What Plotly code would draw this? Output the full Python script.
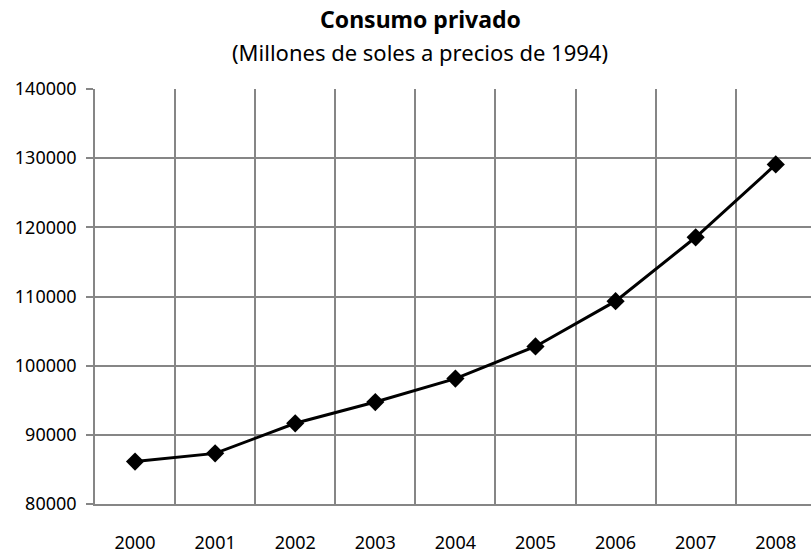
import plotly.graph_objects as go

# Consumo privado, millones de soles a precios de 1994
years = ["2000", "2001", "2002", "2003", "2004", "2005", "2006", "2007", "2008"]
consumo = [86130, 87320, 91670, 94740, 98130, 102780, 109330, 118560, 129090]

y_ticks = [80000, 90000, 100000, 110000, 120000, 130000, 140000]

title_text = "Consumo privado"
subtitle_text = "(Millones de soles a precios de 1994)"

FONT = "Noto Sans"
GRID = "#868686"

W, H = 811, 554
M_L, M_R, M_T, M_B = 95, 0, 89, 47
plot_w = W - M_L - M_R
plot_h = H - M_T - M_B


def paper_x(px):
    return (px - M_L) / plot_w


def paper_y(px):
    return (H - M_B - px) / plot_h


fig = go.Figure(
    go.Scatter(
        x=years,
        y=consumo,
        mode="lines+markers",
        line=dict(color="black", width=3),
        marker=dict(symbol="diamond", size=14, color="black"),
        cliponaxis=False,
        showlegend=False,
    )
)

# two-line heading: bold title over a regular subtitle
fig.add_annotation(
    text=f"<b>{title_text}</b>", x=paper_x(420), xref="paper",
    y=paper_y(18), yref="paper", showarrow=False,
    xanchor="center", yanchor="middle",
    font=dict(family=FONT, size=23, color="black"),
)
fig.add_annotation(
    text=subtitle_text, x=paper_x(420), xref="paper",
    y=paper_y(52), yref="paper", showarrow=False,
    xanchor="center", yanchor="middle",
    font=dict(family=FONT, size=22, color="black"),
)

fig.update_layout(
    width=W,
    height=H,
    margin=dict(l=M_L, r=M_R, t=M_T, b=M_B, pad=0),
    paper_bgcolor="white",
    plot_bgcolor="white",
    font=dict(family=FONT, size=18, color="black"),
    xaxis=dict(
        type="category",
        range=[-0.5, 8.44],
        tickson="boundaries",
        ticks="",
        showgrid=True,
        gridcolor=GRID,
        gridwidth=1.6,
        showline=True,
        linecolor=GRID,
        linewidth=1.6,
        ticklabelstandoff=22,
        tickfont=dict(family=FONT, size=18, color="black"),
    ),
    yaxis=dict(
        range=[80000, 140000],
        tickvals=y_ticks,
        tickformat="d",
        showgrid=True,
        gridcolor=GRID,
        gridwidth=1.6,
        showline=True,
        linecolor=GRID,
        linewidth=1.6,
        ticks="outside",
        ticklen=7,
        tickwidth=1.6,
        tickcolor=GRID,
        ticklabelstandoff=6,
        zeroline=False,
        tickfont=dict(family=FONT, size=18, color="black"),
    ),
)

fig.write_html("out.html")
